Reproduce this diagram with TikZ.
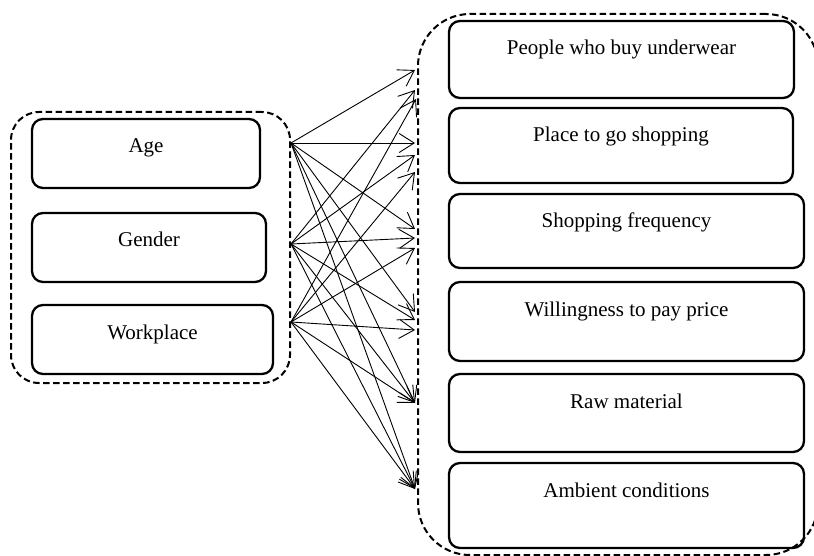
\documentclass[tikz,border=0pt]{standalone}
\usepackage{fontspec}
\setmainfont{Liberation Serif}
\usetikzlibrary{arrows.meta}
\begin{document}
\begin{tikzpicture}[x=1pt,y=-1pt,
  box/.style={draw, line width=2.3pt, rounded corners=11pt, inner xsep=0pt, inner ysep=0pt,
    text height=34pt, align=center, font=\fontsize{21}{25}\selectfont},
  grp/.style={draw, line width=2pt, dash pattern=on 6.5pt off 3.5pt, inner sep=0pt},
  link/.style={line width=0.9pt, -{Straight Barb[length=15pt,width=19pt]}}]
\useasboundingbox (0,0) rectangle (814,556);

% groups
\node[grp, rounded corners=28pt, minimum width=279pt, minimum height=271pt] (leftg) at (150.5,247.5) {};
\node[grp, rounded corners=52pt, minimum width=400pt, minimum height=541pt] (rightg) at (618,284.5) {};

% left boxes
\node[box, minimum width=228pt, text depth=35pt] (age) at (146,153.5) {Age};
\node[box, minimum width=234pt, text depth=35pt] (gender) at (149,247.5) {Gender};
\node[box, minimum width=241pt, text depth=35pt] (work) at (152.5,339.5) {Workplace};

% right boxes
\node[box, minimum width=345pt, text depth=43pt] (b1) at (621.5,59.5) {People who buy underwear};
\node[box, minimum width=344pt, text depth=41pt] (b2) at (621,145.5) {Place to go shopping};
\node[box, minimum width=355pt, text depth=40pt] (b3) at (626.5,231) {Shopping frequency};
\node[box, minimum width=355pt, text depth=45pt] (b4) at (626.5,321.5) {Willingness to pay price};
\node[box, minimum width=355pt, text depth=44pt] (b5) at (626.5,413) {Raw material};
\node[box, minimum width=355pt, text depth=51pt] (b6) at (626.5,505.5) {Ambient conditions};

% sources
\coordinate (sA) at (291,143);
\coordinate (sG) at (291,244);
\coordinate (sW) at (291,322);
% targets
\coordinate (t1a) at (415,70);
\coordinate (t1g) at (415,90);
\coordinate (t1w) at (416,99);
\coordinate (t2a) at (415,143);
\coordinate (t2g) at (415,155);
\coordinate (t2w) at (415,172);
\coordinate (t3a) at (415,229);
\coordinate (t3g) at (415,238);
\coordinate (t3w) at (415,248);
\coordinate (t4a) at (415,312);
\coordinate (t4g) at (415,320);
\coordinate (t4w) at (415,330);
\coordinate (t5) at (415,403);
\coordinate (t6) at (415,489);

% arrows
\draw[link] (sA) -- (t1a);
\draw[link] (sA) -- (t2a);
\draw[link] (sA) -- (t3a);
\draw[link] (sA) -- (t4a);
\draw[link] (sA) -- (t5);
\draw[link] (sA) -- (t6);
\draw[link] (sG) -- (t1g);
\draw[link] (sG) -- (t2g);
\draw[link] (sG) -- (t3g);
\draw[link] (sG) -- (t4g);
\draw[link] (sG) -- (t5);
\draw[link] (sG) -- (t6);
\draw[link] (sW) -- (t1w);
\draw[link] (sW) -- (t2w);
\draw[link] (sW) -- (t3w);
\draw[link] (sW) -- (t4w);
\draw[link] (sW) -- (t5);
\draw[link] (sW) -- (t6);
\end{tikzpicture}
\end{document}
